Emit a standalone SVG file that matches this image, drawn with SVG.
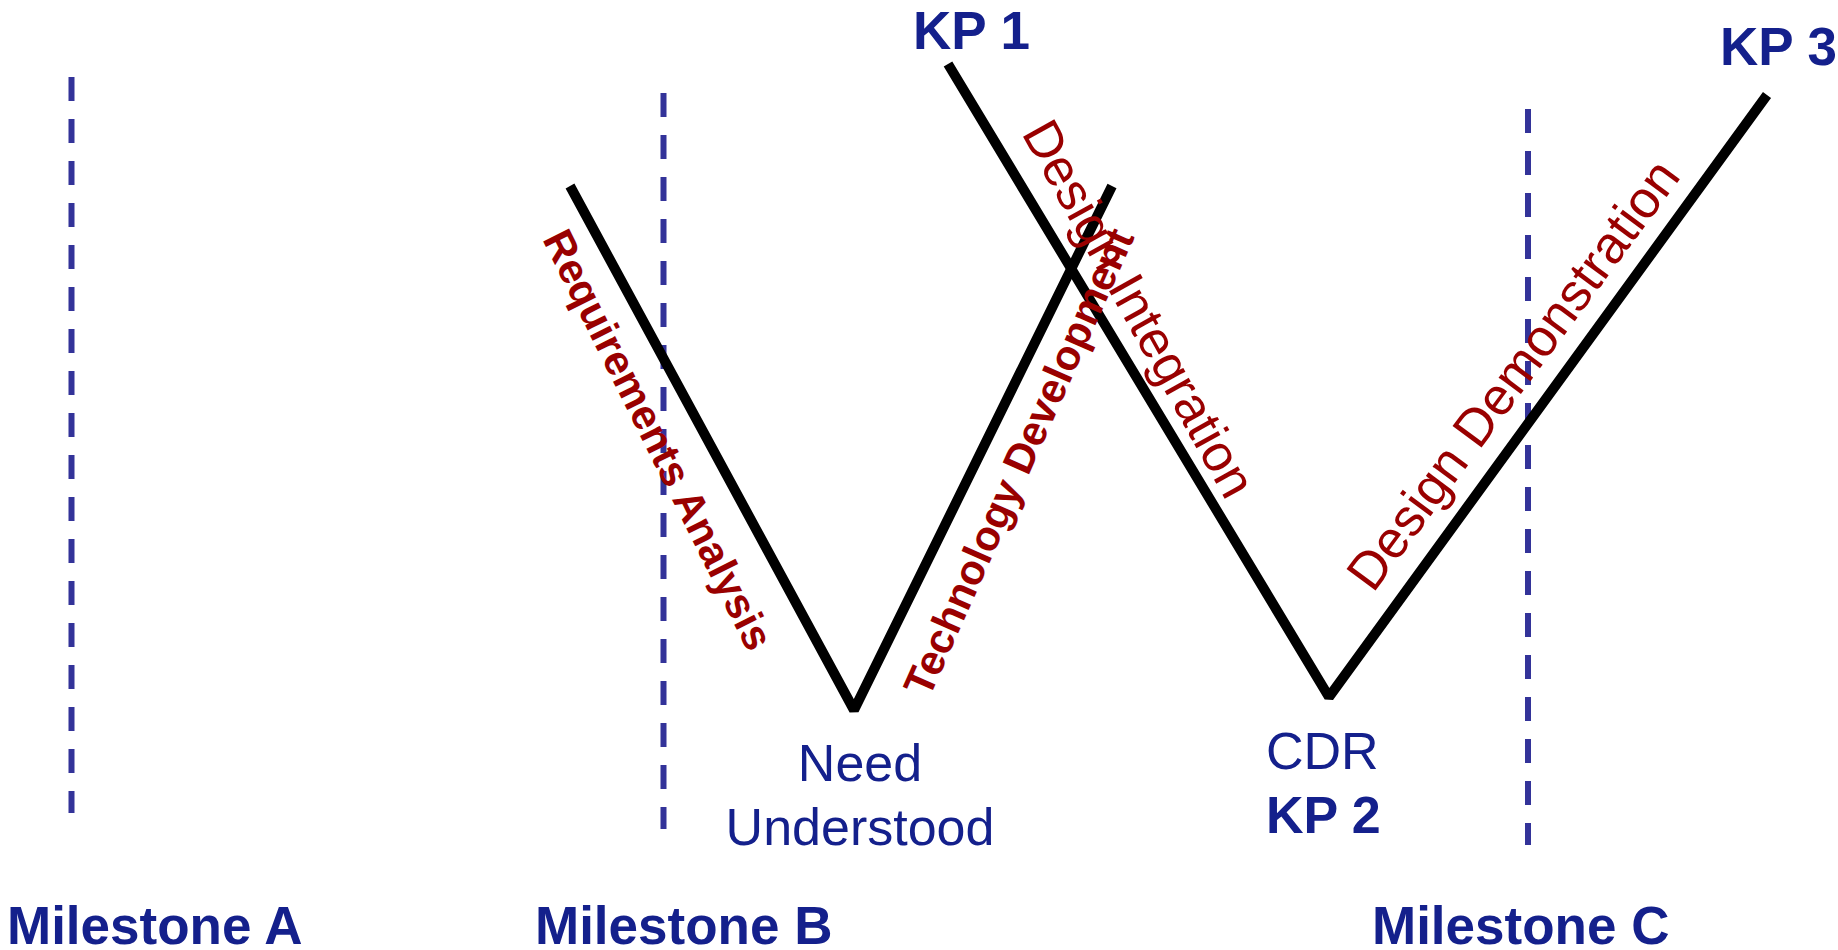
<svg xmlns="http://www.w3.org/2000/svg" width="1838" height="950" viewBox="0 0 1838 950">
<style>
.ms{stroke:#333399;stroke-width:6;stroke-dasharray:24 18;fill:none}
.vl{stroke:#000;stroke-width:10;fill:none;stroke-linejoin:bevel;stroke-linecap:butt}
.bl{font-family:"Liberation Sans",Arial,sans-serif;fill:#14208c}
.b{font-weight:bold}
.rd{font-family:"Liberation Sans",Arial,sans-serif;fill:#990000}
</style>
<rect width="1838" height="950" fill="#fff"/>
<g id="milestones">
<line class="ms" x1="71.5" y1="77" x2="71.5" y2="813"/>
<line class="ms" x1="663.5" y1="93" x2="663.5" y2="829"/>
<line class="ms" x1="1528" y1="109" x2="1528" y2="845"/>
</g>
<g id="connectors">
<polyline class="vl" points="570,186 854,710 1112,186"/>
<polyline class="vl" points="948,64 1329,697 1767,95"/>
</g>
<g id="phase-labels">
<text class="rd b" font-size="42" transform="translate(542,239) rotate(63.5)">Requirements Analysis</text>
<text class="rd b" font-size="42" textLength="506" lengthAdjust="spacingAndGlyphs" transform="translate(929,699) rotate(-66)">Technology Development</text>
<text class="rd" font-size="52" transform="translate(1021,133) rotate(60.9)">Design Integration</text>
<text class="rd" font-size="52.5" transform="translate(1373,594) rotate(-53.5)">Design Demonstration</text>
</g>
<g id="kp1"><text class="bl b" font-size="53" x="913" y="49">KP 1</text></g>
<g id="kp3"><text class="bl b" font-size="53" x="1720" y="65">KP 3</text></g>
<g id="need"><text class="bl" font-size="52" text-anchor="middle" x="860" y="781">Need</text><text class="bl" font-size="52" text-anchor="middle" x="860" y="845">Understood</text></g>
<g id="cdr"><text class="bl" font-size="52" x="1266" y="769">CDR</text><text class="bl b" font-size="52" x="1266" y="833">KP 2</text></g>
<g id="milestone-a"><text class="bl b" font-size="53" x="7" y="944">Milestone A</text></g>
<g id="milestone-b"><text class="bl b" font-size="53" x="535" y="944">Milestone B</text></g>
<g id="milestone-c"><text class="bl b" font-size="53" x="1372" y="944">Milestone C</text></g>
</svg>
